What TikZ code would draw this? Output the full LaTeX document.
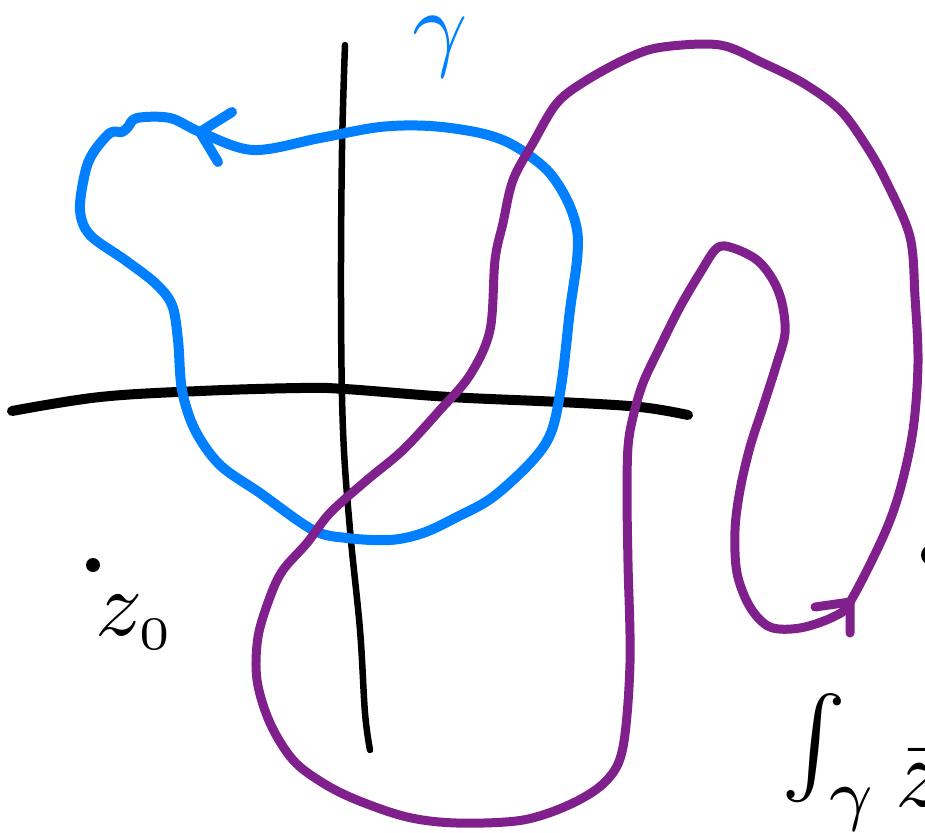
\documentclass[tikz,border=0pt]{standalone}
\usepackage{amsmath}
\usepackage{amssymb}
\usepackage{xcolor}
\usepackage{tikz}
\definecolor{gammaColor}{HTML}{0080FF}
\definecolor{pathColor}{HTML}{80208C}

\begin{document}
\begin{tikzpicture}[x=0.02cm, y=-0.02cm,
    curve/.style={line width=0.18cm, line cap=round, line join=round},
    axis/.style={line width=0.2cm, line cap=round, black}]

    \useasboundingbox (0,0) rectangle (925,832);
    \clip (0,0) rectangle (925,832);

    % axes
    \draw[axis] plot[smooth, tension=0.6] coordinates
        {(12,411) (100,397) (200,391) (300,388) (345,389) (450,397) (560,402) (640,407) (688,415)};
    \draw[axis, line width=0.13cm] plot[smooth, tension=0.6] coordinates
        {(345,45) (342,150) (341,300) (343,430) (350,530) (360,630) (365,713) (370,750)};

    % gamma
    \draw[curve, gammaColor, line width=0.2cm] plot[smooth cycle, tension=0.55] coordinates
        {(200,132) (170,118) (137,118) (128,127) (122,132) (110,133) (93,153) (85,173) (80,210)
         (90,235) (125,260) (155,283) (172,305) (178,340) (182,390) (195,430) (220,465)
         (260,493) (313,530) (347,538) (390,540) (423,533) (457,517) (493,497) (533,460)
         (552,430) (562,380) (570,310) (577,260) (577,230) (567,200) (547,170) (513,145)
         (480,133) (430,126) (380,127) (320,138) (253,150)};
    \draw[curve, gammaColor, line width=0.2cm] (232,112) -- (200,132) -- (218,162);

    % the other path
    \draw[curve, pathColor] plot[smooth cycle, tension=0.55] coordinates
        {(850,602) (883,537) (900,490) (913,430) (918,363) (915,297) (910,237) (887,183)
         (867,147) (840,110) (803,83) (763,63) (720,45) (663,47) (630,57) (587,80) (557,103)
         (533,143) (513,180) (503,223) (495,260) (490,330) (470,375) (440,410) (403,450)
         (367,480) (330,513) (307,543) (283,570) (270,597) (258,637) (257,680) (270,723)
         (293,760) (323,783) (357,800) (407,817) (457,823) (523,820) (573,803) (607,780)
         (623,747) (630,663) (628,563) (627,497) (628,447) (633,417) (643,383) (660,347)
         (680,307) (700,273) (717,248) (733,248) (757,260) (773,280) (782,303) (785,333)
         (777,363) (763,407) (750,447) (740,490) (735,530) (737,573) (750,607) (770,627)
         (800,628) (833,617)};
    \draw[curve, pathColor] (815,607) -- (850,602) -- (850,633);

    % labels
    \node[gammaColor, scale=5.5, inner sep=0pt] (gammalabel) at (440,47) {$\gamma$};
    \fill (93,565) circle (7) coordinate (zdot);
    \node[scale=5.3, inner sep=0pt] (zlabel) at (135,622) {$z_{\scriptscriptstyle 0}$};
    \fill (931,555) circle (10) coordinate (edgedot);
    \node[anchor=west, scale=5.6, inner sep=0pt] (integral) at (780,762)
        {$\int_{\raisebox{-1pt}{$\scriptstyle\gamma$}}\raisebox{-3.5pt}{$\bar{z}$}$};
\end{tikzpicture}
\end{document}
